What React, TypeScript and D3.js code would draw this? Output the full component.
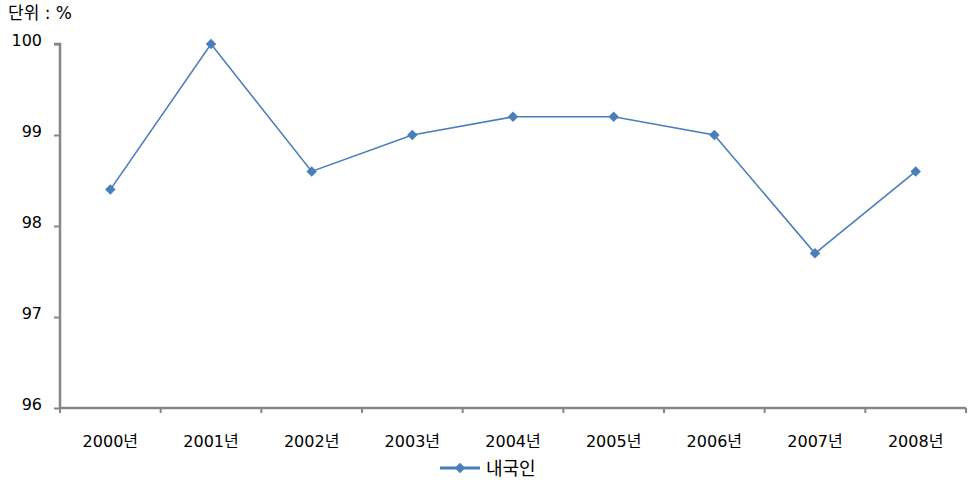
import React, { useEffect, useRef } from 'react';
import * as d3 from 'd3';

const years = ['2000년', '2001년', '2002년', '2003년', '2004년', '2005년', '2006년', '2007년', '2008년'];
const domestic = [98.4, 100, 98.6, 99.0, 99.2, 99.2, 99.0, 97.7, 98.6];
const yTicks = [96, 97, 98, 99, 100];
const seriesName = '내국인';
const unitLabel = '단위 : %';

const width = 974;
const height = 502;
const font = '"DejaVu Sans", "Noto Sans CJK KR", sans-serif';
const blue = '#4a7ebb';
const axisGray = '#868686';

export default function App() {
  const svgRef = useRef<SVGSVGElement>(null);

  useEffect(() => {
    if (!svgRef.current) return;
    const root = d3.select(svgRef.current);
    root.selectAll('*').remove();

    const margin = { top: 44, right: 8, bottom: 94, left: 60 };
    const innerWidth = width - margin.left - margin.right;
    const innerHeight = height - margin.top - margin.bottom;

    const svg = root.append('g').attr('transform', `translate(${margin.left},${margin.top})`);

    const x = d3.scaleBand<string>().domain(years).range([0, innerWidth]);
    const y = d3.scaleLinear().domain([96, 100]).range([innerHeight, 0]);

    // y axis
    const yAxis = d3.axisLeft(y).tickValues(yTicks).tickSize(6).tickPadding(12).tickFormat(d3.format('d'));
    const gy = svg.append('g').call(yAxis);
    gy.select('.domain').attr('stroke', axisGray).attr('stroke-width', 2.5).attr('d', `M-6,0H0V${innerHeight}`);
    gy.selectAll('.tick line').attr('stroke', axisGray).attr('stroke-width', 2);
    gy.selectAll('.tick text')
      .attr('fill', '#000')
      .attr('dy', '0.1em')
      .style('font-family', font)
      .style('font-size', '16px');

    // x axis
    const gx = svg.append('g').attr('transform', `translate(0,${innerHeight})`);
    gx.append('line')
      .attr('x1', 0).attr('x2', innerWidth)
      .attr('stroke', axisGray).attr('stroke-width', 2.5);
    const tickXs = years.map(d => x(d) as number).concat([innerWidth]);
    gx.selectAll('line.tk')
      .data(tickXs)
      .enter()
      .append('line')
      .attr('class', 'tk')
      .attr('x1', d => d).attr('x2', d => d)
      .attr('y1', 0).attr('y2', 5)
      .attr('stroke', axisGray).attr('stroke-width', 2);
    gx.selectAll('text')
      .data(years)
      .enter()
      .append('text')
      .attr('x', d => (x(d) as number) + x.bandwidth() / 2)
      .attr('y', 39)
      .attr('text-anchor', 'middle')
      .style('font-family', font)
      .style('font-size', '16px')
      .text(d => d);

    // series line
    const line = d3.line<number>()
      .x((d, i) => (x(years[i]) as number) + x.bandwidth() / 2)
      .y(d => y(d));
    svg.append('path')
      .datum(domestic)
      .attr('fill', 'none')
      .attr('stroke', blue)
      .attr('stroke-width', 1.6)
      .attr('d', line);

    const diamond = d3.symbol().type(d3.symbolDiamond2).size(70);
    svg.selectAll('path.pt')
      .data(domestic)
      .enter()
      .append('path')
      .attr('class', 'pt')
      .attr('d', diamond)
      .attr('transform', (d, i) => `translate(${(x(years[i]) as number) + x.bandwidth() / 2},${y(d)})`)
      .attr('fill', blue);

    // unit label
    root.append('text')
      .attr('x', 8)
      .attr('y', 19)
      .style('font-family', font)
      .style('font-size', '17px')
      .text(unitLabel);

    // legend
    const lg = root.append('g').attr('transform', `translate(440,468)`);
    lg.append('line').attr('x1', 0).attr('x2', 40).attr('stroke', blue).attr('stroke-width', 3);
    lg.append('path').attr('d', diamond).attr('transform', 'translate(20,0)').attr('fill', blue);
    lg.append('text')
      .attr('x', 46)
      .attr('y', 7)
      .style('font-family', font)
      .style('font-size', '18px')
      .text(seriesName);
  }, []);

  return <svg ref={svgRef} width={width} height={height} style={{ position: 'absolute', left: 0, top: 0 }} />;
}
